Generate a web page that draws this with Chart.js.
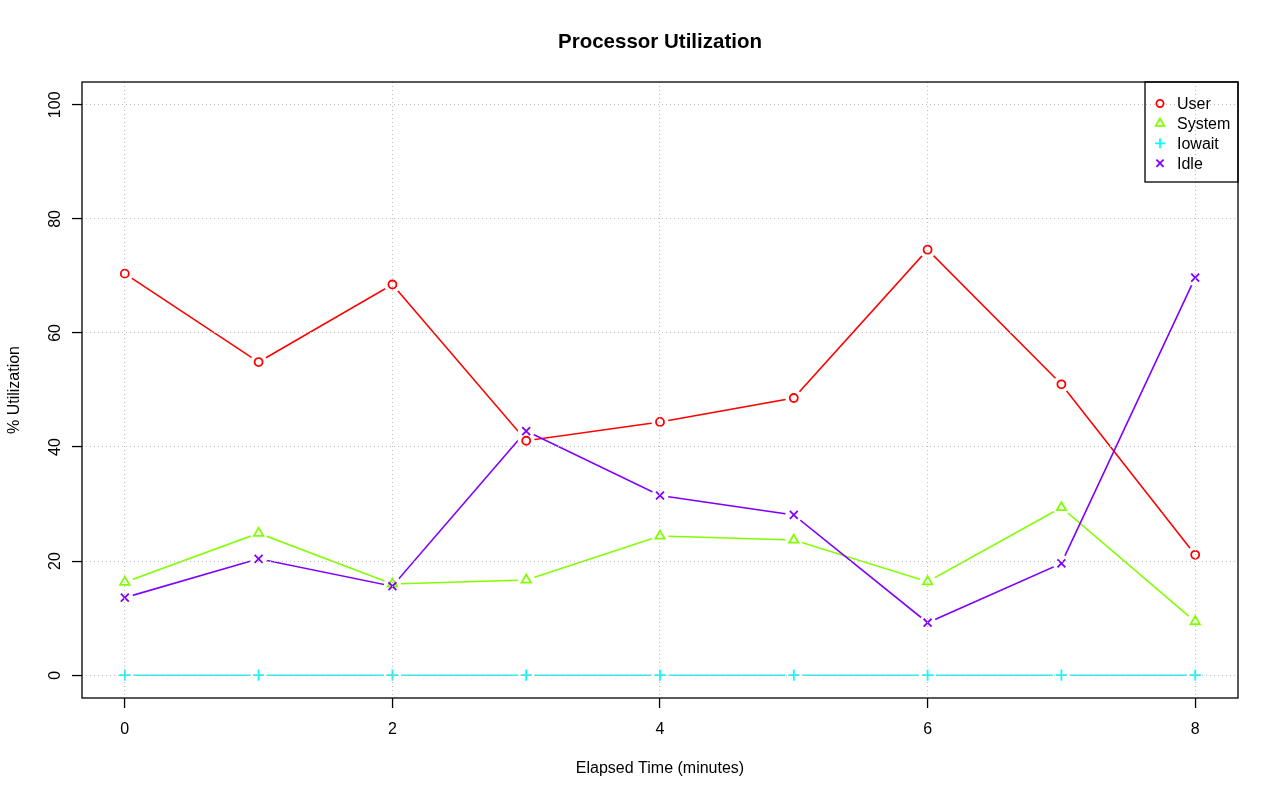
<!DOCTYPE html>
<html><head><meta charset="utf-8">
<script src="https://cdn.jsdelivr.net/npm/chart.js@4/dist/chart.umd.min.js"></script>
<style>html,body{margin:0;padding:0;background:#fff;}#wrap{width:1280px;height:801px;}</style>
</head><body><div id="wrap"><canvas id="c" width="1280" height="801"></canvas></div>
<script>
// ---- data ----
const minutes   = [0, 1, 2, 3, 4, 5, 6, 7, 8];
const userPct   = [70.4, 54.9, 68.5, 41.1, 44.4, 48.6, 74.6, 51.0, 21.1];
const systemPct = [16.3, 24.9, 16.0, 16.7, 24.4, 23.7, 16.4, 29.4, 9.4];
const iowaitPct = [0, 0, 0, 0, 0, 0, 0, 0, 0];
const idlePct   = [13.6, 20.4, 15.6, 42.8, 31.5, 28.1, 9.2, 19.6, 69.7];
const xTickValues = [0, 2, 4, 6, 8];
const yTickValues = [0, 20, 40, 60, 80, 100];
const seriesNames = ['User', 'System', 'Iowait', 'Idle'];
const chartTitle = 'Processor Utilization';

// ---- styles ----
const seriesValues = [userPct, systemPct, iowaitPct, idlePct];
const seriesColors = ['#FF0000', '#80FF00', '#00FFFF', '#8000FF'];
const seriesStyles = ['circle', 'triangle', 'cross', 'crossRot'];
const seriesRadius = [4, 5.4, 5.6, 5.6];
const FONT = "'Liberation Sans', Arial, Helvetica, sans-serif";
Chart.defaults.font.family = FONT;
Chart.defaults.color = '#000';

function pts(vals) { return minutes.map((m, i) => ({x: m, y: vals[i]})); }

const datasets = [];
seriesNames.forEach((name, s) => {
  datasets.push({ label: name + ' line', kind: 'line', data: pts(seriesValues[s]),
    borderColor: seriesColors[s], borderWidth: 1.6, pointRadius: 0, showLine: true,
    order: 3 + (4 - s) / 10 });
  datasets.push({ label: name + ' gap', kind: 'gap', data: pts(seriesValues[s]),
    showLine: false, pointRadius: 8.5, pointBackgroundColor: '#ffffff', pointBorderWidth: 0,
    pointBorderColor: '#ffffff', order: 2 });
  datasets.push({ label: name, kind: 'marker', data: pts(seriesValues[s]),
    showLine: false, pointStyle: seriesStyles[s], pointRadius: seriesRadius[s],
    pointBorderColor: seriesColors[s], pointBackgroundColor: 'rgba(0,0,0,0)',
    pointBorderWidth: 1.8, borderColor: seriesColors[s], order: 1 + (4 - s) / 10 });
});

const framePlugin = {
  id: 'frameLegend',
  afterDraw(chart) {
    const {ctx, chartArea: a} = chart;
    ctx.save();
    // title centred over plot area
    ctx.fillStyle = '#000';
    ctx.font = 'bold 20.5px ' + FONT;
    ctx.textAlign = 'center';
    ctx.textBaseline = 'middle';
    ctx.fillText(chartTitle, (a.left + a.right) / 2, 42);
    // box
    ctx.strokeStyle = '#000';
    ctx.lineWidth = 1.3;
    ctx.setLineDash([]);
    ctx.strokeRect(a.left, a.top, a.right - a.left, a.bottom - a.top);
    // legend box (top-right, inside plot)
    const lw = 93, lh = 100;
    const lx = a.right - lw, ly = a.top;
    ctx.strokeRect(lx, ly, lw, lh);
    ctx.font = '16px ' + FONT;
    ctx.textBaseline = 'middle';
    ctx.textAlign = 'left';
    const markers = chart.data.datasets.filter(d => d.kind === 'marker');
    markers.forEach((d, i) => {
      const y = ly + 21.5 + i * 19.9;
      const x = lx + 15;
      ctx.strokeStyle = d.pointBorderColor;
      ctx.fillStyle = 'rgba(0,0,0,0)';
      ctx.lineWidth = d.pointBorderWidth;
      Chart.helpers.drawPoint(ctx, {pointStyle: d.pointStyle, radius: d.pointRadius * 0.9, borderWidth: d.pointBorderWidth, rotation: 0}, x, y);
      ctx.fillStyle = '#000';
      ctx.fillText(d.label, lx + 32, y + 1);
    });
    ctx.restore();
  }
};

const gridOpts = { z: 1, color: '#bdbdbd', lineWidth: 1.1, tickLength: 10, tickColor: '#000', tickWidth: 1.3, tickBorderDash: [] };

new Chart(document.getElementById('c'), {
  type: 'scatter',
  data: { datasets },
  options: {
    responsive: false,
    animation: false,
    events: [],
    layout: { padding: { left: 0, right: 42, top: 82, bottom: 0 } },
    plugins: {
      legend: { display: false },
      tooltip: { enabled: false },
      title: { display: false }
    },
    scales: {
      x: {
        type: 'linear', min: -0.32, max: 8.32,
        afterBuildTicks(scale) { scale.ticks = xTickValues.map(v => ({value: v})); },
        afterFit(scale) { scale.height = 103; },
        ticks: { font: { size: 16 }, padding: 12, maxRotation: 0, minRotation: 0, color: '#000' },
        grid: gridOpts,
        border: { display: false, dash: [1, 3] },
        title: { display: true, text: 'Elapsed Time (minutes)', font: { size: 16 }, color: '#000', padding: { top: 0, bottom: 23 } }
      },
      y: {
        type: 'linear', min: -4, max: 104,
        afterBuildTicks(scale) { scale.ticks = yTickValues.map(v => ({value: v})); },
        afterFit(scale) { scale.width = 82; },
        ticks: { font: { size: 16 }, padding: 3, minRotation: 90, maxRotation: 90, crossAlign: 'center', color: '#000' },
        grid: gridOpts,
        border: { display: false, dash: [1, 3] },
        title: { display: true, text: '% Utilization', font: { size: 16 }, color: '#000', padding: { top: 5, bottom: 0 } }
      }
    }
  },
  plugins: [framePlugin]
});
</script>
</body></html>
